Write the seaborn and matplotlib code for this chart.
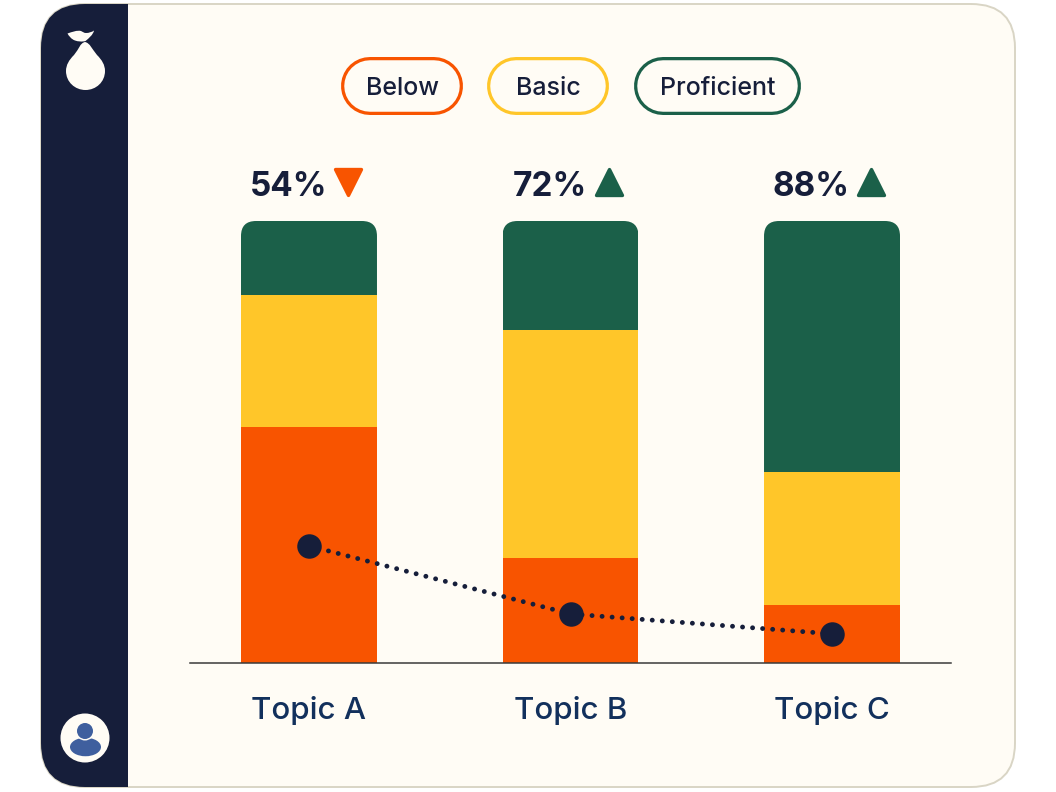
# topic_mastery_card.py
import numpy as np
import pandas as pd
import matplotlib.pyplot as plt
import seaborn as sns
from matplotlib.markers import MarkerStyle
from matplotlib.patches import Circle, Ellipse, FancyBboxPatch, PathPatch, Rectangle
from matplotlib.path import Path
from matplotlib.transforms import IdentityTransform

# Chart data (share of students, %)
topics = ["Topic A", "Topic B", "Topic C"]
below = [53.4, 23.8, 13.1]
basic = [29.9, 51.6, 30.1]
proficient = [16.7, 24.6, 56.8]
trend = [26.5, 11.1, 6.6]
scores = ["54%", "72%", "88%"]
score_up = [False, True, True]
legend_labels = ["Below", "Basic", "Proficient"]

NAVY = "#161E3A"
ORANGE = "#F85400"
YELLOW = "#FFC629"
GREEN = "#1B6049"
CREAM = "#FFFCF5"
TOPIC_BLUE = "#12305C"
AVATAR_BLUE = "#3F5F9E"

sns.set_theme(style="white")
plt.rcParams["font.family"] = ["Inter", "DejaVu Sans"]

W, H = 1056, 792
fig = plt.figure(figsize=(W / 100, H / 100), dpi=100, facecolor="white")

# Card behind the chart, in pixel coordinates
bg = fig.add_axes([0, 0, 1, 1])
bg.set_xlim(0, W)
bg.set_ylim(H, 0)
bg.axis("off")

card = FancyBboxPatch((41, 4), 974, 783, boxstyle="round,pad=0,rounding_size=44",
                      facecolor=CREAM, edgecolor="#D9D5C5", linewidth=1.4)
bg.add_patch(card)
sidebar = Rectangle((41, 4), 87, 783, facecolor=NAVY, edgecolor="none")
bg.add_patch(sidebar)
sidebar.set_clip_path(card)

# Pear logo
pear = Path(
    [(85, 42), (80, 43), (79, 49), (74, 55), (69, 60), (66, 65), (66, 71),
     (66, 82), (75, 90), (85.5, 90), (96, 90), (105, 82), (105, 71),
     (105, 65), (102, 60), (97, 55), (92, 49), (90, 43), (85, 42)],
    [Path.MOVETO] + [Path.CURVE4] * 18,
)
bg.add_patch(PathPatch(pear, facecolor=CREAM, edgecolor="none"))
leaf = Path(
    [(67.5, 33.5), (72, 32), (77, 30), (81, 31), (83, 32), (84, 33), (86, 33),
     (89, 33), (92, 32), (94, 30.5), (93, 35), (89, 38), (85.5, 41),
     (82, 42), (78, 41.5), (75, 40.5), (71, 39), (69, 36), (67.5, 33.5)],
    [Path.MOVETO] + [Path.CURVE4] * 18,
)
bg.add_patch(PathPatch(leaf, facecolor=CREAM, edgecolor="none"))

# Avatar
bg.add_patch(Circle((85, 738), 24.5, facecolor=CREAM, edgecolor="none"))
bg.add_patch(Ellipse((85.5, 747), 31, 18.5, facecolor=AVATAR_BLUE, edgecolor="none"))
bg.add_patch(Circle((85, 731), 9.5, facecolor=CREAM, edgecolor="none"))
bg.add_patch(Circle((85, 731), 8, facecolor=AVATAR_BLUE, edgecolor="none"))

# Legend pills, thick round-capped lines so the ends are true half circles
pill_x = [342, 488, 635]
pill_w = [120, 120, 165]
pill_colors = [ORANGE, YELLOW, GREEN]
for x0, w, color, label in zip(pill_x, pill_w, pill_colors, legend_labels):
    ends = [x0 + 28, x0 + w - 28]
    bg.plot(ends, [86, 86], color=color, linewidth=58 * 0.72, solid_capstyle="round")
    bg.plot(ends, [86, 86], color=CREAM, linewidth=51.5 * 0.72, solid_capstyle="round")
    bg.text(x0 + w / 2, 86, label, ha="center", va="center_baseline",
            fontsize=18, fontweight="medium", color=NAVY)

# Chart axes: baseline at y=663px, full bars up to y=221px
ax = fig.add_axes([190 / W, 1 - 663 / H, (951 - 190) / W, (663 - 221) / H])
ax.patch.set_alpha(0)

df = pd.DataFrame({"topic": topics, "below": below, "basic": basic,
                   "proficient": proficient, "trend": trend})
df["to_basic"] = df["below"] + df["basic"]
df["total"] = df["to_basic"] + df["proficient"]

# stack drawn back to front
top_bars = sns.barplot(data=df, x="topic", y="total", color=GREEN, width=0.52,
                       saturation=1, linewidth=0, ax=ax).patches[:]
sns.barplot(data=df, x="topic", y="to_basic", color=YELLOW, width=0.52,
            saturation=1, linewidth=0, ax=ax)
sns.barplot(data=df, x="topic", y="below", color=ORANGE, width=0.52,
            saturation=1, linewidth=0, ax=ax)

sns.pointplot(data=df, x="topic", y="trend", color=NAVY, markers="o", markersize=15,
              linewidth=3.5, linestyle=(0, (0.01, 2.06)), errorbar=None, ax=ax)
for line in ax.lines:
    line.set_dash_capstyle("round")
    line.set_zorder(6)

ax.set_xlim(-0.455, 2.455)
ax.set_ylim(0, 100)
ax.set_xlabel("")
ax.set_ylabel("")
ax.set_yticks([])
ax.set_xticks(range(len(topics)))
ax.set_xticklabels(topics, fontsize=22.5, fontweight="medium", color=TOPIC_BLUE)
ax.tick_params(axis="x", length=0, pad=24)
sns.despine(ax=ax, left=True)
ax.spines["bottom"].set_color("#3A3A3A")
ax.spines["bottom"].set_linewidth(1.1)

# Rounded top corners on the full bars
for bar in top_bars:
    box = bar.get_window_extent(fig.canvas.get_renderer())
    clip = FancyBboxPatch((box.x0, box.y0 - 40), box.width, box.height + 40,
                          boxstyle="round,pad=0,rounding_size=15",
                          transform=IdentityTransform())
    bar.set_clip_path(clip)

# Scores and arrows above the bars
for i, (score, up) in enumerate(zip(scores, score_up)):
    ax.annotate(score, (i, 100), xytext=(-15, 18), textcoords="offset points",
                ha="center", va="baseline", fontsize=24, fontweight="bold",
                color=NAVY, annotation_clip=False)
    marker = MarkerStyle("^" if up else "v", joinstyle="round")
    ax.plot(i + 0.148, 108.8, marker=marker, markersize=18.5, markeredgewidth=2.4,
            color=GREEN if up else ORANGE, clip_on=False, linestyle="none")

plt.savefig("out.png", dpi=100)
plt.close()
